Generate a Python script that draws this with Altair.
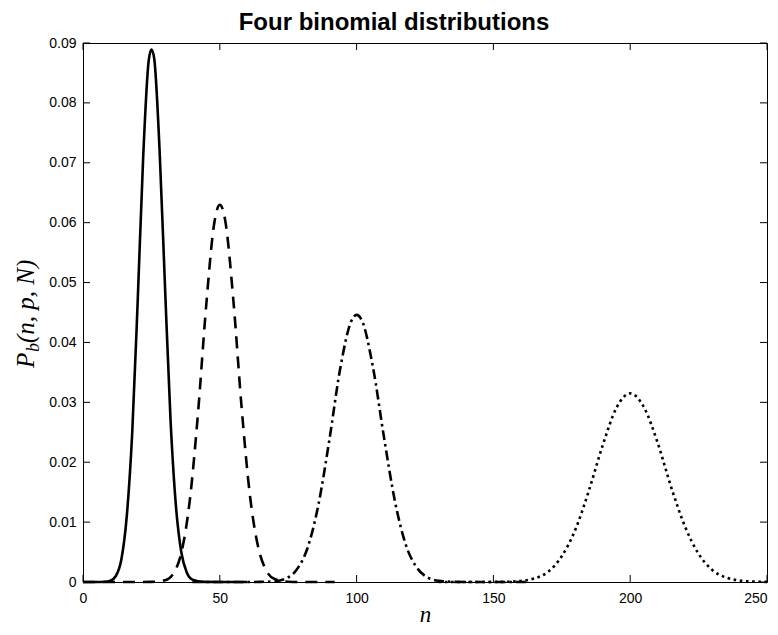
import altair as alt
import pandas as pd

# ---- data ----
# solid curve (peak near n = 25)
n_solid = [0, 5, 8, 10, 12, 14, 16, 18, 20, 22, 24, 25, 26, 28, 30, 32, 34, 36, 38, 40, 44, 50, 60]
p_solid = [0, 0, 0.00003, 0.0002, 0.0010, 0.0037, 0.011, 0.025, 0.047, 0.071, 0.087, 0.0889, 0.0875,
           0.072, 0.049, 0.027, 0.0125, 0.0048, 0.0015, 0.0004, 0.00002, 0, 0]
# dashed curve (peak near n = 50)
n_dashed = [0, 20, 25, 30, 33, 36, 39, 42, 45, 48, 50, 52, 55, 58, 61, 64, 67, 70, 75, 80, 92]
p_dashed = [0, 0, 0.00002, 0.0003, 0.0014, 0.0050, 0.0135, 0.028, 0.046, 0.060, 0.0630, 0.0603,
            0.0468, 0.029, 0.0145, 0.0059, 0.0019, 0.0005, 0.00004, 0, 0]
# dash-dot curve (peak near n = 100)
n_dashdot = [40, 60, 65, 70, 74, 78, 82, 86, 90, 94, 98, 100, 102, 106, 110, 114, 118, 122, 126, 130, 135, 140, 163]
p_dashdot = [0, 0, 0.00002, 0.00012, 0.00055, 0.0020, 0.0056, 0.0128, 0.0236, 0.0356, 0.0435, 0.0446,
             0.0436, 0.0358, 0.0242, 0.0135, 0.0062, 0.0024, 0.00075, 0.0002, 0.00003, 0, 0]
# dotted curve (peak near n = 200)
n_dotted = [130, 140, 150, 155, 160, 165, 170, 175, 180, 185, 190, 195, 200, 205, 210, 215, 220, 225,
            230, 235, 240, 245, 250]
p_dotted = [0, 0, 0.00001, 0.00004, 0.00017, 0.0006, 0.0017, 0.0043, 0.0088, 0.0154, 0.0229, 0.0291,
            0.0315, 0.0292, 0.0233, 0.0158, 0.0093, 0.0047, 0.0020, 0.00075, 0.00024, 0.00007, 0.00002]

x_ticks = [0, 50, 100, 150, 200, 250]
y_ticks = [0, 0.01, 0.02, 0.03, 0.04, 0.05, 0.06, 0.07, 0.08, 0.09]

title_text = "Four binomial distributions"
x_title = "n"
y_title_parts = ["P", "b", "(n, p, N)"]

W, H = 684, 539

xscale = alt.Scale(domain=[0, 250], nice=False, zero=False)
yscale = alt.Scale(domain=[0, 0.09], nice=False, zero=False)

x_axis = alt.Axis(values=x_ticks, ticks=False, domain=False, grid=False, labelFlush=False,
                  labelAlign={"condition": {"test": "datum.value >= 250", "value": "right"},
                              "value": "center"},
                  labelFont="Liberation Sans", labelFontSize=14, labelColor="black", labelPadding=9,
                  title=x_title, titleFont="Liberation Serif", titleFontStyle="italic",
                  titleFontWeight="normal", titleFontSize=23, titleColor="black",
                  titleBaseline="alphabetic", titleY=39)
y_axis = alt.Axis(values=y_ticks, format=".2~f", ticks=False, domain=False, grid=False, labelFlush=False,
                  labelFont="Liberation Sans", labelFontSize=14, labelColor="black", labelPadding=7,
                  title="")


def curve(ns, ps, dash):
    df = pd.DataFrame({"n": ns, "P": ps})
    kw = {"strokeDash": dash} if dash else {}
    return alt.Chart(df).mark_line(color="black", strokeWidth=2.6, strokeCap="butt",
                                   interpolate="monotone", **kw).encode(
        x=alt.X("n:Q", scale=xscale, axis=x_axis),
        y=alt.Y("P:Q", scale=yscale, axis=y_axis),
    )


solid = curve(n_solid, p_solid, None)
dashed = curve(n_dashed, p_dashed, [12, 8])
dashdot = curve(n_dashdot, p_dashdot, [10, 4, 2.5, 4])
dotted = curve(n_dotted, p_dotted, [2.6, 3.6])

xt = pd.DataFrame({"n": x_ticks})
yt = pd.DataFrame({"P": y_ticks})
tick_len = 7
xt_bottom = alt.Chart(xt).mark_rule(color="black", strokeWidth=1).encode(
    x=alt.X("n:Q", scale=xscale, axis=x_axis), y=alt.value(H), y2=alt.value(H - tick_len))
xt_top = alt.Chart(xt).mark_rule(color="black", strokeWidth=1).encode(
    x=alt.X("n:Q", scale=xscale, axis=x_axis), y=alt.value(0), y2=alt.value(tick_len))
yt_left = alt.Chart(yt).mark_rule(color="black", strokeWidth=1).encode(
    y=alt.Y("P:Q", scale=yscale, axis=y_axis), x=alt.value(0), x2=alt.value(tick_len))
yt_right = alt.Chart(yt).mark_rule(color="black", strokeWidth=1).encode(
    y=alt.Y("P:Q", scale=yscale, axis=y_axis), x=alt.value(W), x2=alt.value(W - tick_len))


def label_piece(txt, size, xpos, ypos, weight="normal", style="italic", font="Liberation Serif",
                angle=270, align="left"):
    return alt.Chart(pd.DataFrame({"t": [txt]})).mark_text(
        angle=angle, align=align, baseline="alphabetic", font=font,
        fontStyle=style, fontWeight=weight, fontSize=size, color="black").encode(
        text="t:N", x=alt.value(xpos), y=alt.value(ypos))


ylab_P = label_piece(y_title_parts[0], 25, -49, 325)
ylab_b = label_piece(y_title_parts[1], 18, -44, 309)
ylab_rest = label_piece(y_title_parts[2], 25, -49, 300)
title_mark = label_piece(title_text, 24, 311, -13, weight="bold", style="normal",
                         font="Liberation Sans", angle=0, align="center")

chart = alt.layer(
    solid, dashed, dashdot, dotted,
    xt_bottom, xt_top, yt_left, yt_right,
    ylab_P, ylab_b, ylab_rest, title_mark,
).properties(
    width=W, height=H,
    autosize=alt.AutoSizeParams(type="none"),
    padding={"left": 75, "top": 35, "right": 3, "bottom": 45},
).configure_view(stroke="black", strokeWidth=1).configure_axis(grid=False)

chart.save("out.html", embed_options={"renderer": "svg", "actions": False})
